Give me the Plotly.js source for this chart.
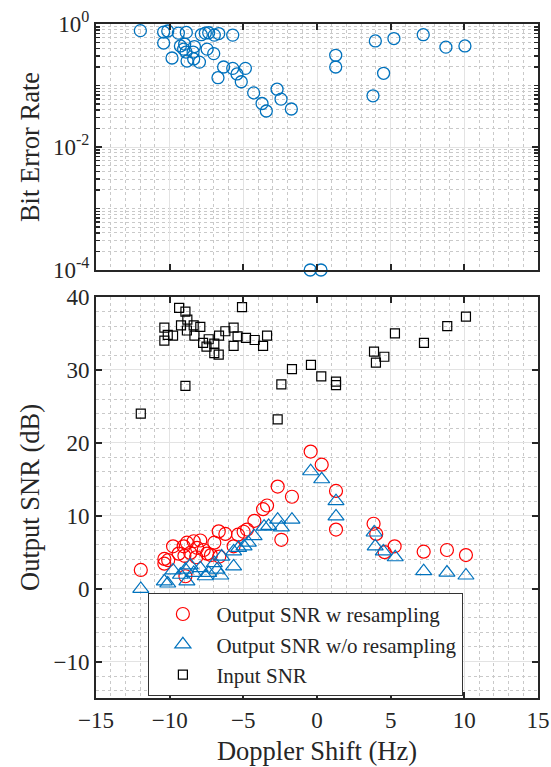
<!DOCTYPE html>
<html>
<head>
<meta charset="utf-8">
<script src="https://cdn.plot.ly/plotly-3.0.1.min.js"></script>
<style>html,body{margin:0;padding:0;background:#fff;}#chart{width:551px;height:767px;}</style>
</head>
<body>
<div id="chart"></div>
<script>
// ---- Data ----
const berShift = [-11.99,-10.41,-10.13,-9.41,-8.87,-10.41,-7.85,-7.58,-7.35,-6.97,-6.67,-5.72,-9.27,-8.98,-9.05,-8.32,-8.89,-8.41,-7.46,-7.01,-9.84,-8.82,-8.37,-7.98,-6.34,-5.72,-4.86,-5.43,-6.72,-5.14,-4.30,-2.71,-3.73,-2.44,-3.44,-1.74,3.96,5.22,7.21,8.75,10.04,1.27,1.27,4.52,3.80,-0.46,0.27];
const berValues = [0.78,0.74,0.77,0.71,0.73,0.49,0.67,0.71,0.72,0.66,0.70,0.66,0.44,0.47,0.39,0.43,0.35,0.35,0.39,0.33,0.28,0.25,0.27,0.24,0.20,0.19,0.19,0.154,0.134,0.115,0.076,0.087,0.051,0.060,0.0385,0.0415,0.53,0.58,0.67,0.42,0.44,0.31,0.20,0.158,0.068,1e-4,1e-4];

const wShift = [-11.96,-10.36,-10.36,-10.1,-9.77,-9.39,-9.05,-9.0,-8.83,-8.6,-8.37,-8.2,-7.92,-8.14,-7.69,-7.46,-7.2,-6.97,-6.67,-6.22,-6.63,-5.66,-5.36,-4.98,-4.75,-4.25,-3.66,-3.39,-2.67,-2.42,-1.70,-8.93,-0.43,0.32,1.29,1.29,3.84,4.02,4.59,5.27,7.24,8.82,10.11];
const wSNR = [2.56,4.07,3.42,3.9,5.8,4.8,5.8,4.5,6.3,4.9,6.5,4.3,6.6,5.6,5.3,4.8,4.6,6.3,7.85,7.5,4.4,5.8,7.4,7.8,8.1,9.3,10.9,11.4,14.0,6.7,12.6,1.7,18.8,17.0,13.4,8.1,8.9,7.5,5.0,5.8,5.07,5.3,4.6];

const woShift = [-11.96,-10.36,-10.13,-9.77,-9.27,-8.83,-8.93,-8.6,-8.37,-7.92,-7.58,-7.35,-6.97,-6.79,-6.53,-6.47,-5.66,-5.66,-5.32,-4.95,-4.66,-4.27,-3.59,-3.28,-2.67,-2.42,-1.70,-0.43,0.32,1.29,1.29,3.88,3.95,4.5,5.31,7.24,8.82,10.11];
const woSNR = [-0.04,1.0,0.7,2.5,1.9,1.0,2.6,3.2,2.15,2.8,1.7,2.15,3.5,2.6,1.8,4.4,3.05,5.1,5.6,5.8,6.3,7.2,8.5,8.6,9.45,8.4,9.45,16.1,15.0,12.0,9.9,7.7,5.8,5.1,4.3,2.4,2.2,1.8];

const inShift = [-9.36,-8.93,-5.09,-10.36,-9.23,-8.83,-8.8,-8.37,-7.92,-10.13,-9.77,-10.36,-8.32,-7.73,-7.5,-7.35,-6.97,-6.65,-6.22,-5.66,-5.39,-4.82,-4.23,-3.39,-5.66,-3.66,-6.97,-6.67,-1.70,-0.41,0.29,1.29,1.29,-2.42,-8.93,-11.96,-2.67,10.11,8.84,5.29,7.26,3.87,4.57,4.00];
const inSNR = [38.5,38.0,38.6,35.8,36.1,35.4,36.9,36.1,35.9,34.8,34.7,34.0,34.7,33.7,33.2,34.2,33.6,34.7,35.3,35.8,34.6,34.4,34.1,34.7,33.3,33.3,32.3,32.1,30.1,30.7,29.1,28.4,27.9,28.0,27.8,24.0,23.2,37.3,36.0,35.0,33.7,32.5,31.8,31.0];

const xTicks = [-15,-10,-5,0,5,10,15];
const berTickVals = [1e-4,1e-2,1];
const berTickText = ['10<sup>-4</sup>','10<sup>-2</sup>','10<sup>0</sup>'];
const snrTicks = [-10,0,10,20,30,40];
const legendNames = ['Output SNR w resampling','Output SNR w/o resampling','Input SNR'];

// ---- Styles ----
const FONT = 'Liberation Serif, Times New Roman, serif';
const AX = '#262626';
const GRID = '#e3e3e3';
const MINOR = '#c9c9c9';
const BLUE = '#0072BD';
const TICKSZ = 23;
const TITLESZ = 26.5;

const traces = [
  {x: berShift, y: berValues, xaxis:'x2', yaxis:'y2', type:'scatter', mode:'markers', showlegend:false, cliponaxis:false,
   marker:{symbol:'circle-open', size:12, color:BLUE, line:{width:1.3, color:BLUE}}},
  {x: wShift, y: wSNR, type:'scatter', mode:'markers', name: legendNames[0],
   marker:{symbol:'circle-open', size:13, color:'#FF0000', line:{width:1.2, color:'#FF0000'}}},
  {x: woShift, y: woSNR, type:'scatter', mode:'markers', name: legendNames[1],
   marker:{symbol:'triangle-up-open', size:14, color:BLUE, line:{width:1.2, color:BLUE}}},
  {x: inShift, y: inSNR, type:'scatter', mode:'markers', name: legendNames[2],
   marker:{symbol:'square-open', size:9, color:'#000', line:{width:1.2, color:'#000'}}}
];

const xCommon = {
  range:[-15,15], tickmode:'array', tickvals:xTicks, ticks:'inside', ticklen:6, tickwidth:2, tickcolor:AX,
  showline:true, linewidth:2, linecolor:AX, mirror:'ticks', showgrid:true, gridcolor:GRID, gridwidth:1,
  zeroline:false,
  minor:{dtick:1, showgrid:true, gridcolor:MINOR, griddash:'dot', gridwidth:1, ticks:''},
  tickfont:{family:FONT, size:TICKSZ, color:AX}
};

const layout = {
  width:551, height:767,
  margin:{l:96, r:13, t:24, b:69},
  paper_bgcolor:'#fff', plot_bgcolor:'#fff',
  font:{family:FONT, color:AX},
  showlegend:true,
  xaxis: Object.assign({}, xCommon, {anchor:'y',
     title:{text:'Doppler Shift (Hz)', font:{family:FONT, size:TITLESZ, color:AX}, standoff:10}}),
  xaxis2: Object.assign({}, xCommon, {anchor:'y2', matches:'x', showticklabels:false}),
  yaxis: {domain:[0,0.595], range:[-15,40], tickmode:'array', tickvals:snrTicks, ticks:'inside', ticklen:6, tickwidth:2,
     tickcolor:AX, showline:true, linewidth:2, linecolor:AX, mirror:'ticks', showgrid:true, gridcolor:GRID, zeroline:false,
     minor:{dtick:2, tick0:0, showgrid:true, gridcolor:MINOR, griddash:'dot', gridwidth:1, ticks:''},
     tickfont:{family:FONT, size:TICKSZ, color:AX},
     title:{text:'Output SNR (dB)', font:{family:FONT, size:TITLESZ, color:AX}, standoff:6}},
  yaxis2: {domain:[0.635,1], type:'log', range:[-4,0], tickmode:'array', tickvals:berTickVals, ticktext:berTickText,
     ticks:'inside', ticklen:6, tickwidth:2, tickcolor:AX, showline:true, linewidth:2, linecolor:AX, mirror:'ticks',
     showgrid:true, gridcolor:GRID, zeroline:false,
     minor:{dtick:'D1', showgrid:true, gridcolor:MINOR, griddash:'dot', gridwidth:1, ticks:'inside', ticklen:4, tickcolor:AX, tickwidth:1.5},
     tickfont:{family:FONT, size:TICKSZ, color:AX},
     title:{text:'Bit Error Rate', font:{family:FONT, size:TITLESZ, color:AX}, standoff:6}},
  legend:{x:0.1185, y:0.156, xanchor:'left', yanchor:'top', bgcolor:'#fff', bordercolor:'#333', borderwidth:1,
     font:{family:FONT, size:21, color:AX}, itemwidth:57, tracegroupgap:0}
};

Plotly.newPlot('chart', traces, layout, {displayModeBar:false, staticPlot:true});
</script>
</body>
</html>
